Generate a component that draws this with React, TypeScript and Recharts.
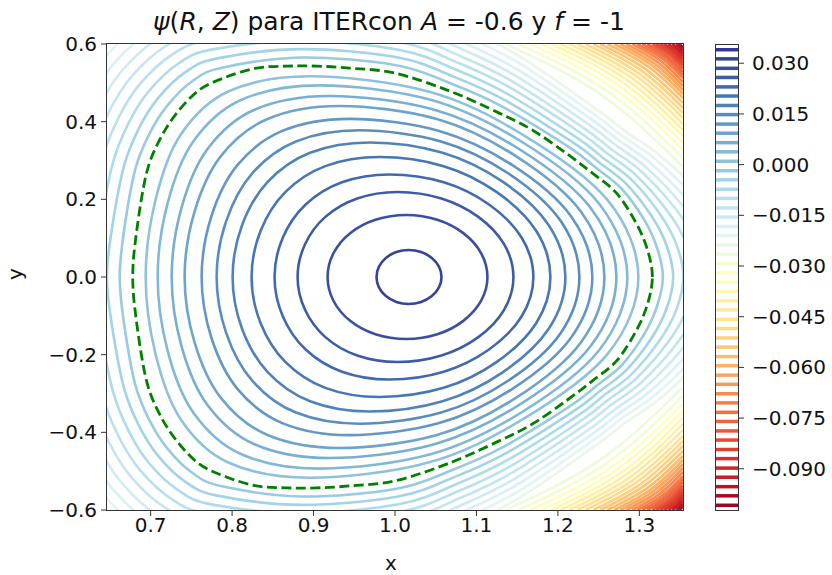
import React from 'react';
import { ScatterChart, Scatter, XAxis, YAxis } from 'recharts';

// contour levels (top to bottom)
const levels = [
  0.034, 0.0313, 0.0285, 0.0258, 0.023, 0.0203, 0.0175, 0.0148, 0.012, 0.0093,
  0.0065, 0.0038, 0.001, -0.0018, -0.0045, -0.0073, -0.01, -0.0128, -0.0155, -0.0183,
  -0.021, -0.0238, -0.0265, -0.0293, -0.032, -0.0348, -0.0375, -0.0403, -0.043, -0.0458,
  -0.0485, -0.0513, -0.054, -0.0568, -0.0595, -0.0623, -0.065, -0.0678, -0.0705, -0.0733,
  -0.076, -0.0788, -0.0815, -0.0843, -0.087, -0.0898, -0.0925, -0.0953, -0.098, -0.1008,
];
const xTicks = [0.7, 0.8, 0.9, 1.0, 1.1, 1.2, 1.3];
const yTicks = [-0.6, -0.4, -0.2, 0.0, 0.2, 0.4, 0.6];
const cbTicks = [0.03, 0.015, 0.0, -0.015, -0.03, -0.045, -0.06, -0.075, -0.09];

// closed flux surfaces inside the separatrix: upper halves, right (y=0) to left (y=0)
const c1 = [[1.0571, 0], [1.054, 0.0266], [1.0452, 0.0491], [1.0321, 0.0642], [1.0166, 0.0695], [1.0016, 0.0642], [0.9888, 0.0491], [0.9803, 0.0266], [0.9773, 0]];
const c2 = [[1.1135, 0], [1.1058, 0.0611], [1.0839, 0.1129], [1.052, 0.1475], [1.0141, 0.1597], [0.976, 0.1475], [0.9449, 0.1129], [0.9244, 0.0611], [0.9172, 0]];
const c3 = [[1.1454, 0], [1.1341, 0.0838], [1.1023, 0.1548], [1.057, 0.2022], [1.0031, 0.2189], [0.9536, 0.2022], [0.9145, 0.1548], [0.8894, 0.0838], [0.8804, 0]];
const c4 = [[1.1699, 0], [1.1556, 0.101], [1.1154, 0.1867], [1.0599, 0.2439], [0.9933, 0.264], [0.9349, 0.2439], [0.8903, 0.1867], [0.8622, 0.101], [0.8521, 0]];
const c5 = [[1.1908, 0], [1.1735, 0.1183], [1.125, 0.2185], [1.0597, 0.2855], [0.981, 0.309], [0.9144, 0.2855], [0.8653, 0.2185], [0.8349, 0.1183], [0.8239, 0]];
const c6 = [[1.2092, 0], [1.189, 0.1326], [1.1326, 0.2449], [1.0584, 0.32], [0.9687, 0.3464], [0.8957, 0.32], [0.8437, 0.2449], [0.8121, 0.1326], [0.8006, 0]];
const c7 = [[1.2264, 0], [1.2033, 0.1446], [1.1389, 0.2671], [1.0566, 0.3491], [0.9564, 0.3778], [0.8784, 0.3491], [0.8247, 0.2671], [0.7928, 0.1446], [0.781, 0]];
const c8 = [[1.2423, 0], [1.2163, 0.1558], [1.1442, 0.2879], [1.0543, 0.3762], [0.9442, 0.4072], [0.8616, 0.3762], [0.8065, 0.2879], [0.7745, 0.1558], [0.7626, 0]];
const c9 = [[1.2571, 0], [1.2282, 0.1685], [1.1484, 0.3114], [1.0514, 0.4069], [0.9319, 0.4404], [0.8434, 0.4069], [0.7862, 0.3114], [0.7539, 0.1685], [0.7417, 0]];
const c10 = [[1.2718, 0], [1.24, 0.1784], [1.1523, 0.3296], [1.0483, 0.4306], [0.9196, 0.4661], [0.8274, 0.4306], [0.7698, 0.3296], [0.7379, 0.1784], [0.7258, 0]];
const c11 = [[1.2853, 0], [1.2506, 0.1888], [1.1551, 0.3489], [1.0448, 0.4559], [0.9074, 0.4934], [0.8108, 0.4559], [0.7523, 0.3489], [0.7207, 0.1888], [0.7086, 0]];
const c12 = [[1.2988, 0], [1.2611, 0.1978], [1.1576, 0.3655], [1.0411, 0.4776], [0.8951, 0.5169], [0.7952, 0.4776], [0.7366, 0.3655], [0.7059, 0.1978], [0.6939, 0]];

const separatrix = [
  [1.316, 0], [1.31, 0.07], [1.296, 0.139], [1.272, 0.216], [1.242, 0.268], [1.21, 0.319],
  [1.169, 0.378], [1.128, 0.422], [1.067, 0.479], [1.0, 0.525], [0.944, 0.538], [0.904, 0.543],
  [0.867, 0.543], [0.83, 0.538], [0.793, 0.515], [0.76, 0.482], [0.732, 0.422], [0.711, 0.353],
  [0.695, 0.268], [0.683, 0.121], [0.678, 0],
];

// surfaces outside the separatrix (partly outside the frame, clipped)
const o1 = [[1.3289, 0], [1.3218, 0.0747], [1.306, 0.1471], [1.278, 0.2279], [1.2471, 0.2805], [1.215, 0.3325], [1.1319, 0.4386], [1.0702, 0.497], [1.0016, 0.5455], [0.8853, 0.5653], [0.7875, 0.539], [0.7514, 0.5048], [0.7204, 0.4414], [0.6983, 0.368], [0.6811, 0.2771], [0.6676, 0.1236], [0.662, 0]];
const o2 = [[1.3415, 0], [1.3337, 0.0798], [1.3156, 0.155], [1.2842, 0.2392], [1.2519, 0.2931], [1.2194, 0.3453], [1.1354, 0.4548], [1.0734, 0.5148], [1.0038, 0.5653], [0.8853, 0.5869], [0.7817, 0.563], [0.7427, 0.5274], [0.7091, 0.4605], [0.6856, 0.3829], [0.6673, 0.2861], [0.6526, 0.1262], [0.6463, 0]];
const o3 = [[1.354, 0], [1.3454, 0.0847], [1.325, 0.163], [1.2903, 0.2506], [1.2564, 0.3052], [1.2237, 0.3582], [1.139, 0.4705], [1.0766, 0.5323], [1.0059, 0.5846], [0.8853, 0.608], [0.7761, 0.5861], [0.7342, 0.5498], [0.6979, 0.479], [0.6732, 0.3976], [0.6538, 0.2951], [0.6379, 0.1288], [0.6308, 0]];
const o4 = [[1.3663, 0], [1.3568, 0.0896], [1.3342, 0.1707], [1.2962, 0.2614], [1.2611, 0.3173], [1.228, 0.3708], [1.1425, 0.4862], [1.0796, 0.5496], [1.008, 0.6039], [0.8853, 0.6289], [0.7706, 0.6091], [0.7259, 0.572], [0.687, 0.4973], [0.661, 0.412], [0.6404, 0.3041], [0.6234, 0.1311], [0.6156, 0]];
const o5 = [[1.3784, 0], [1.3681, 0.0945], [1.3433, 0.1785], [1.3021, 0.2725], [1.2655, 0.3291], [1.2322, 0.3829], [1.1459, 0.5014], [1.0827, 0.5666], [1.0101, 0.6227], [0.8853, 0.6495], [0.7652, 0.6317], [0.7177, 0.5936], [0.6762, 0.5153], [0.649, 0.4262], [0.6272, 0.3129], [0.6092, 0.1334], [0.6006, 0]];
const o6 = [[1.3903, 0], [1.3793, 0.0992], [1.3524, 0.1859], [1.308, 0.283], [1.2701, 0.341], [1.2363, 0.3953], [1.1493, 0.5166], [1.0858, 0.5833], [1.012, 0.6413], [0.8853, 0.6698], [0.7597, 0.6541], [0.7096, 0.615], [0.6656, 0.5331], [0.6371, 0.4404], [0.6144, 0.3214], [0.5951, 0.136], [0.5858, 0]];
const o7 = [[1.4021, 0], [1.3902, 0.104], [1.3611, 0.1931], [1.3136, 0.2936], [1.2744, 0.3526], [1.2404, 0.4072], [1.1527, 0.5313], [1.0887, 0.5995], [1.0141, 0.6595], [0.8853, 0.6897], [0.7545, 0.676], [0.7016, 0.6361], [0.6551, 0.5503], [0.6254, 0.454], [0.6016, 0.3299], [0.5813, 0.1383], [0.5713, 0]];
const o8 = [[1.4136, 0], [1.401, 0.1087], [1.3698, 0.2004], [1.3193, 0.3039], [1.2786, 0.3636], [1.2445, 0.419], [1.1559, 0.546], [1.0917, 0.6158], [1.0161, 0.6776], [0.8853, 0.7092], [0.7493, 0.6974], [0.6939, 0.6567], [0.6448, 0.5676], [0.614, 0.4677], [0.5891, 0.3381], [0.5677, 0.1406], [0.5571, 0]];
const o9 = [[1.4249, 0], [1.4116, 0.1131], [1.3784, 0.2076], [1.3247, 0.3142], [1.2828, 0.375], [1.2484, 0.4306], [1.1591, 0.5604], [1.0946, 0.6317], [1.018, 0.6953], [0.8853, 0.7285], [0.7442, 0.7188], [0.6861, 0.6771], [0.6347, 0.5843], [0.6027, 0.4808], [0.5768, 0.3464], [0.5544, 0.1429], [0.5429, 0]];

const surfaces = [
  { pts: o9, level: 21 }, { pts: o8, level: 20 }, { pts: o7, level: 19 }, { pts: o6, level: 18 },
  { pts: o5, level: 17 }, { pts: o4, level: 16 }, { pts: o3, level: 15 }, { pts: o2, level: 14 },
  { pts: o1, level: 13 },
  { pts: c12, level: 12 }, { pts: c11, level: 11 }, { pts: c10, level: 10 }, { pts: c9, level: 9 },
  { pts: c8, level: 8 }, { pts: c7, level: 7 }, { pts: c6, level: 6 }, { pts: c5, level: 5 },
  { pts: c4, level: 4 }, { pts: c3, level: 3 }, { pts: c2, level: 2 }, { pts: c1, level: 1 },
];

// corner arcs (top edge -> right edge), levels 22..48, mirrored below
const arcLevels = [22, 23, 24, 25, 26, 27, 28, 29, 30, 31, 32, 33, 34, 35, 36, 37, 38, 39, 40, 41, 42, 43, 44, 45, 46, 47, 48];
const arcTopX = [1.1356, 1.1515, 1.1663, 1.1798, 1.192, 1.2031, 1.2141, 1.2239, 1.2337, 1.2436, 1.2521, 1.2607, 1.2693, 1.2767, 1.284, 1.2914, 1.2975, 1.3037, 1.3098, 1.316, 1.3209, 1.3258, 1.3307, 1.3356, 1.3405, 1.3454, 1.3491];
const arcMidX = [1.2533, 1.2605, 1.2674, 1.2735, 1.2791, 1.2843, 1.2893, 1.2937, 1.2983, 1.3028, 1.3067, 1.3107, 1.3147, 1.3181, 1.3215, 1.3249, 1.3276, 1.3305, 1.3334, 1.3362, 1.3384, 1.3406, 1.3428, 1.3451, 1.3473, 1.3495, 1.3511];
const arcMidY = [0.469, 0.4785, 0.487, 0.4945, 0.5019, 0.5081, 0.5146, 0.521, 0.5261, 0.5313, 0.5367, 0.5421, 0.5462, 0.5503, 0.5547, 0.5588, 0.5632, 0.5663, 0.5694, 0.573, 0.5764, 0.5797, 0.5828, 0.5862, 0.5893, 0.5926, 0.596];
const arcRightY = [0.2833, 0.3065, 0.3271, 0.3451, 0.3631, 0.3786, 0.394, 0.4095, 0.4224, 0.4352, 0.4481, 0.461, 0.4713, 0.4816, 0.4919, 0.5022, 0.5125, 0.5202, 0.5279, 0.5369, 0.5447, 0.5524, 0.5601, 0.5679, 0.5756, 0.5833, 0.591];

const X_MIN = 0.6464, X_MAX = 1.3536, Y_MIN = -0.6, Y_MAX = 0.6;
const CB_MIN = -0.1022, CB_MAX = 0.0354;

const RDYLBU = ['#a50026', '#d73027', '#f46d43', '#fdae61', '#fee090', '#ffffbf',
  '#e0f3f8', '#abd9e9', '#74add1', '#4575b4', '#313695'];

function cmap(v: number) {
  const lo = levels[levels.length - 1];
  const hi = levels[0];
  const t = Math.max(0, Math.min(1, (v - lo) / (hi - lo))) * 10;
  const i = Math.min(9, Math.floor(t));
  const f = t - i;
  const a = RDYLBU[i], b = RDYLBU[i + 1];
  const ch = (k: number) => {
    const ca = parseInt(a.slice(k, k + 2), 16), cb = parseInt(b.slice(k, k + 2), 16);
    return Math.round(ca + (cb - ca) * f).toString(16).padStart(2, '0');
  };
  return '#' + ch(1) + ch(3) + ch(5);
}

// upper half + mirrored lower half -> closed ring
function ring(upper: number[][]) {
  const lower = upper.slice(1, -1).reverse().map(([x, y]) => [x, -y]);
  return [...upper, ...lower].map(([x, y]) => ({ x, y }));
}

const arcsUpper = arcLevels.map((lv, i) => ({
  level: lv,
  pts: [
    { x: arcTopX[i], y: Y_MAX },
    { x: arcMidX[i], y: arcMidY[i] },
    { x: X_MAX, y: arcRightY[i] },
  ],
}));
const arcsLower = arcsUpper.map((a) => ({ level: a.level, pts: a.pts.map((p) => ({ x: p.x, y: -p.y })) }));

// closed Catmull-Rom curve for recharts' Curve
const closedSpline = (ctx: any) => {
  let pts: number[][] = [];
  return {
    areaStart() {},
    areaEnd() {},
    lineStart() { pts = []; },
    point(x: number, y: number) { pts.push([+x, +y]); },
    lineEnd() {
      const n = pts.length;
      if (n < 3) return;
      ctx.moveTo(pts[0][0], pts[0][1]);
      for (let i = 0; i < n; i++) {
        const p0 = pts[(i - 1 + n) % n], p1 = pts[i], p2 = pts[(i + 1) % n], p3 = pts[(i + 2) % n];
        ctx.bezierCurveTo(
          p1[0] + (p2[0] - p0[0]) / 6, p1[1] + (p2[1] - p0[1]) / 6,
          p2[0] - (p3[0] - p1[0]) / 6, p2[1] - (p3[1] - p1[1]) / 6,
          p2[0], p2[1],
        );
      }
      ctx.closePath();
    },
  };
};

const font = '"DejaVu Sans", sans-serif';
const minus = (s: string) => s.replace('-', '\u2212');
const noDot = () => <g />;
const LW = 2.6;
const TICK = { fontSize: 20, fill: '#111', fontFamily: font };

export default function App() {
  return (
    <div style={{ position: 'absolute', left: 0, top: 0, width: 832, height: 575, background: '#fff', fontFamily: font }}>
      <div style={{ position: 'absolute', left: 0, width: 778, top: 7, textAlign: 'center', fontSize: 25, color: '#111', whiteSpace: 'nowrap' }}>
        <i>ψ</i>(<i>R</i>, <i>Z</i>) para ITERcon <i>A</i> = -0.6 y <i>f</i> = -1
      </div>
      <div style={{ position: 'absolute', left: 385, top: 551, fontSize: 20, color: '#111' }}>x</div>
      <div style={{ position: 'absolute', left: 9, top: 262, fontSize: 20, color: '#111', transform: 'rotate(-90deg)' }}>y</div>

      <div style={{ position: 'absolute', left: 0, top: 0 }}>
        <ScatterChart width={700} height={575} margin={{ top: 44, right: 17, bottom: 15, left: 47 }}>
          <XAxis type="number" dataKey="x" domain={[X_MIN, X_MAX]} allowDataOverflow ticks={xTicks}
            tickFormatter={(v: number) => v.toFixed(1)} tickSize={6} tick={TICK}
            axisLine={false} tickLine={{ stroke: '#333' }} height={50} />
          <YAxis type="number" dataKey="y" domain={[Y_MIN, Y_MAX]} allowDataOverflow ticks={yTicks}
            tickFormatter={(v: number) => minus(v.toFixed(1))} tickSize={6} tick={{ ...TICK, dx: -2 }}
            axisLine={false} tickLine={{ stroke: '#333' }} width={60} />
          {[...arcsUpper, ...arcsLower].map((a, i) => (
            <Scatter key={'a' + i} data={a.pts} fill={cmap(levels[a.level])}
              line={{ stroke: cmap(levels[a.level]), strokeWidth: LW }}
              lineJointType="natural" shape={noDot} isAnimationActive={false} />
          ))}
          {surfaces.map((s, i) => (
            <Scatter key={'s' + i} data={ring(s.pts)} fill={cmap(levels[s.level])}
              line={{ stroke: cmap(levels[s.level]), strokeWidth: LW }}
              lineJointType={closedSpline as any} shape={noDot} isAnimationActive={false} />
          ))}
          <Scatter data={ring(separatrix)} fill="#008000"
            line={{ stroke: '#008000', strokeWidth: 2.8, strokeDasharray: '10 4.5' }}
            lineJointType={closedSpline as any} shape={noDot} isAnimationActive={false} />
        </ScatterChart>
      </div>
      {/* plot frame */}
      <div style={{ position: 'absolute', left: 106, top: 43, width: 578, height: 468, border: '1.3px solid #333', boxSizing: 'border-box', pointerEvents: 'none' }} />

      <div style={{ position: 'absolute', left: 700, top: 0 }}>
        <ScatterChart width={132} height={575} margin={{ top: 45, right: 0, bottom: 65, left: 16 }}>
          <XAxis type="number" dataKey="x" domain={[0, 1]} hide />
          <YAxis type="number" dataKey="y" orientation="right" domain={[CB_MIN, CB_MAX]} allowDataOverflow
            ticks={cbTicks} tickFormatter={(v: number) => minus(v.toFixed(3))} tickSize={6}
            tick={{ ...TICK, dx: 6 }} axisLine={false} tickLine={{ stroke: '#333' }} width={94} />
          {levels.map((v, i) => (
            <Scatter key={i} data={[{ x: 0, y: v }, { x: 1, y: v }]} fill={cmap(v)}
              line={{ stroke: cmap(v), strokeWidth: 3.5 }} lineJointType="linear"
              shape={noDot} isAnimationActive={false} />
          ))}
        </ScatterChart>
      </div>
      {/* colorbar frame */}
      <div style={{ position: 'absolute', left: 715, top: 44, width: 24, height: 467, border: '1.3px solid #333', boxSizing: 'border-box', pointerEvents: 'none' }} />
    </div>
  );
}
